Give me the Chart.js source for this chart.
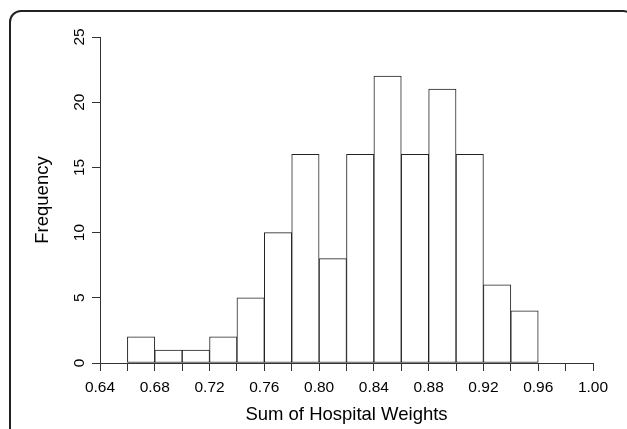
<!DOCTYPE html>
<html>
<head>
<meta charset="utf-8">
<script src="https://cdn.jsdelivr.net/npm/chart.js@4/dist/chart.umd.min.js"></script>
<style>
  html, body { margin: 0; padding: 0; background: #fff; }
  #wrap { position: relative; width: 627px; height: 429px; overflow: hidden; }
  #frame {
    position: absolute; left: 9px; top: 10px; width: 626px; height: 460px;
    box-sizing: border-box; border: 2px solid #222; border-radius: 12px;
  }
  canvas { position: absolute; left: 0; top: 0; }
</style>
</head>
<body>
<div id="wrap">
  <div id="frame"></div>
  <canvas id="hist" width="627" height="429"></canvas>
</div>
<script>
// Bordes izquierdos de cada intervalo (ancho 0.02) y frecuencias.
const binLeft = [0.66, 0.68, 0.70, 0.72, 0.74, 0.76, 0.78, 0.80, 0.82, 0.84, 0.86, 0.88, 0.90, 0.92, 0.94];
const counts  = [2, 1, 1, 2, 5, 10, 16, 8, 16, 22, 16, 21, 16, 6, 4];
const binWidth = 0.02;
const yTicks = [0, 5, 10, 15, 20, 25];

const FONT = "'Liberation Sans', Arial, sans-serif";
const INK = "#000";
const AXIS = "#333";

const puntos = binLeft.map((x, i) => ({ x: x + binWidth / 2, y: counts[i] }));

new Chart(document.getElementById("hist"), {
  type: "bar",
  data: {
    datasets: [{
      data: puntos,
      backgroundColor: "#fff",
      borderColor: "#222",
      borderWidth: 1,
      borderSkipped: false,
      barPercentage: 1,
      categoryPercentage: 1
    }]
  },
  options: {
    responsive: false,
    animation: false,
    layout: { padding: { left: 0, top: 37, right: 34, bottom: 0 } },
    plugins: { legend: { display: false }, tooltip: { enabled: false } },
    scales: {
      x: {
        type: "linear",
        offset: false,
        min: 0.64,
        max: 1.00,
        afterFit: s => { s.height = 66; },
        grid: { offset: false, drawOnChartArea: false, drawTicks: true, tickLength: 8, color: AXIS },
        border: { display: true, color: AXIS, width: 1 },
        ticks: {
          stepSize: 0.02,
          autoSkip: false,
          maxRotation: 0,
          padding: 7,
          color: INK,
          font: { family: FONT, size: 15.5 },
          callback: (v, i) => (i % 2 === 0 ? Number(v).toFixed(2) : "")
        },
        title: {
          display: true,
          text: "Sum of Hospital Weights",
          color: INK,
          font: { family: FONT, size: 18.5 },
          padding: { top: 0, bottom: 3 }
        }
      },
      y: {
        min: 0,
        max: 25,
        afterFit: s => { s.width = 100; },
        afterBuildTicks: s => { s.ticks = yTicks.map(v => ({ value: v })); },
        grid: { drawOnChartArea: false, drawTicks: true, tickLength: 8, color: AXIS },
        border: { display: true, color: AXIS, width: 1 },
        ticks: {
          minRotation: 90,
          maxRotation: 90,
          crossAlign: "center",
          padding: 4,
          color: INK,
          font: { family: FONT, size: 15.5 }
        },
        title: {
          display: true,
          text: "Frequency",
          color: INK,
          font: { family: FONT, size: 18.5 },
          padding: { top: 32, bottom: 0 }
        }
      }
    }
  }
});
</script>
</body>
</html>
